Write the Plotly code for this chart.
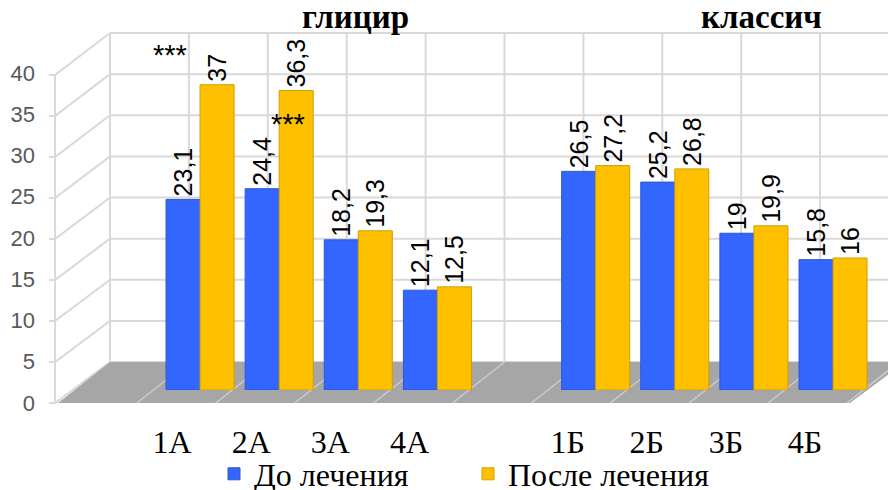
import plotly.graph_objects as go

groups = ["1А", "2А", "3А", "4А", "1Б", "2Б", "3Б", "4Б"]
x_order = groups[:4] + [" "] + groups[4:]
before = [23.1, 24.4, 18.2, 12.1, 26.5, 25.2, 19, 15.8]
after = [37, 36.3, 19.3, 12.5, 27.2, 26.8, 19.9, 16]
y_ticks = [0, 5, 10, 15, 20, 25, 30, 35, 40]
series_names = ["До лечения", "После лечения"]
panel_titles = ["глицир", "классич"]

# the page has an 8px body margin, so the figure is a bit smaller than the window
OFF = 8
W, H = 896 - OFF, 490 - OFF


def px(x):
    return (x - OFF) / W


def py(y):
    return 1 - (y - OFF) / H


def lbl(v):
    return str(v).replace(".", ",")


GRID = "#d9d9d9"
shapes = []

# back wall of the pseudo-3D box
for k in range(11):
    x = 110 + 78.9 * k
    shapes.append(dict(type="line", xref="paper", yref="paper", layer="below",
                       x0=px(x), x1=px(x), y0=py(362), y1=py(33),
                       line=dict(color=GRID, width=2)))
for v in y_ticks:
    yb = 362 - 8.225 * v
    yf = 403 - 8.2 * v
    shapes.append(dict(type="line", xref="paper", yref="paper", layer="below",
                       x0=px(110), x1=px(900), y0=py(yb), y1=py(yb),
                       line=dict(color=GRID, width=2)))
    # side wall
    shapes.append(dict(type="path", xref="paper", yref="paper", layer="below",
                       path=f"M{px(49)},{py(yf)} L{px(55)},{py(yf)} L{px(110)},{py(yb)}",
                       line=dict(color=GRID, width=2)))
shapes.append(dict(type="line", xref="paper", yref="paper", layer="below",
                   x0=px(55), x1=px(55), y0=py(403), y1=py(403 - 8.2 * 40),
                   line=dict(color=GRID, width=2)))

# floor
shapes.append(dict(type="path", xref="paper", yref="paper", layer="below",
                   path=f"M{px(58)},{py(403)} L{px(110)},{py(362)} L{px(905)},{py(362)} "
                        f"L{px(850)},{py(403)} Z",
                   fillcolor="#a6a6a6", line=dict(width=0)))
for k in range(1, 11):
    x = 110 + 78.9 * k
    shapes.append(dict(type="line", xref="paper", yref="paper", layer="below",
                       x0=px(x), x1=px(x - 52), y0=py(362), y1=py(403),
                       line=dict(color="#cdcdcd", width=1.5)))

fig = go.Figure()
fig.add_trace(go.Bar(
    x=groups, y=before, name=series_names[0],
    marker=dict(color="#3366ff", line=dict(color="#2a55d8", width=1)),
    text=[lbl(v) for v in before], textposition="outside", textangle=-90,
    textfont=dict(family="Liberation Sans", size=25, color="black"),
    constraintext="none", cliponaxis=False,
))
fig.add_trace(go.Bar(
    x=groups, y=after, name=series_names[1],
    marker=dict(color="#ffc000", line=dict(color="#d29e00", width=1)),
    text=[lbl(v) for v in after], textposition="outside", textangle=-90,
    textfont=dict(family="Liberation Sans", size=25, color="black"),
    constraintext="none", cliponaxis=False,
))

title_font = dict(family="Liberation Serif", size=33, color="black")
star_font = dict(family="Liberation Sans", size=29, color="black")
annotations = [
    dict(text="<b>" + panel_titles[0] + "</b>", xref="paper", yref="paper",
         x=px(355), y=py(17), xanchor="center", yanchor="middle",
         showarrow=False, font=title_font),
    dict(text="<b>" + panel_titles[1] + "</b>", xref="paper", yref="paper",
         x=px(761), y=py(17), xanchor="center", yanchor="middle",
         showarrow=False, font=title_font),
    dict(text="***", x=groups[0], xref="x", y=py(55), yref="paper", xshift=-30,
         xanchor="center", yanchor="middle", showarrow=False, font=star_font),
    dict(text="***", x=groups[1], xref="x", y=32.2, yref="y", xshift=9,
         xanchor="center", yanchor="middle", showarrow=False, font=star_font),
]

fig.update_layout(
    width=W, height=H,
    margin=dict(l=0, r=0, t=0, b=0, autoexpand=False),
    paper_bgcolor="white", plot_bgcolor="rgba(0,0,0,0)",
    barmode="group", bargap=0.14, bargroupgap=0,
    shapes=shapes, annotations=annotations,
    xaxis=dict(
        type="category", categoryorder="array", categoryarray=x_order,
        range=[-0.5, 8.5], domain=[px(160.5), px(872.6)], automargin=False,
        showgrid=False, zeroline=False, showline=False, ticks="",
        tickfont=dict(family="Liberation Serif", size=32, color="black"),
        ticklabelshift=-28, ticklabelstandoff=30,
    ),
    yaxis=dict(
        range=[0, 40], domain=[py(390), py(60)], automargin=False,
        anchor="free", position=px(35),
        tickvals=y_ticks, showgrid=False, zeroline=False, showline=False, ticks="",
        tickfont=dict(family="Liberation Sans", size=22, color="#595959"),
        ticklabelshift=13,
    ),
    legend=dict(
        orientation="h", x=px(214), y=py(474), xanchor="left", yanchor="middle",
        font=dict(family="Liberation Serif", size=32, color="black"),
        entrywidth=209, bgcolor="rgba(0,0,0,0)",
    ),
)

fig.write_html("out.html")
